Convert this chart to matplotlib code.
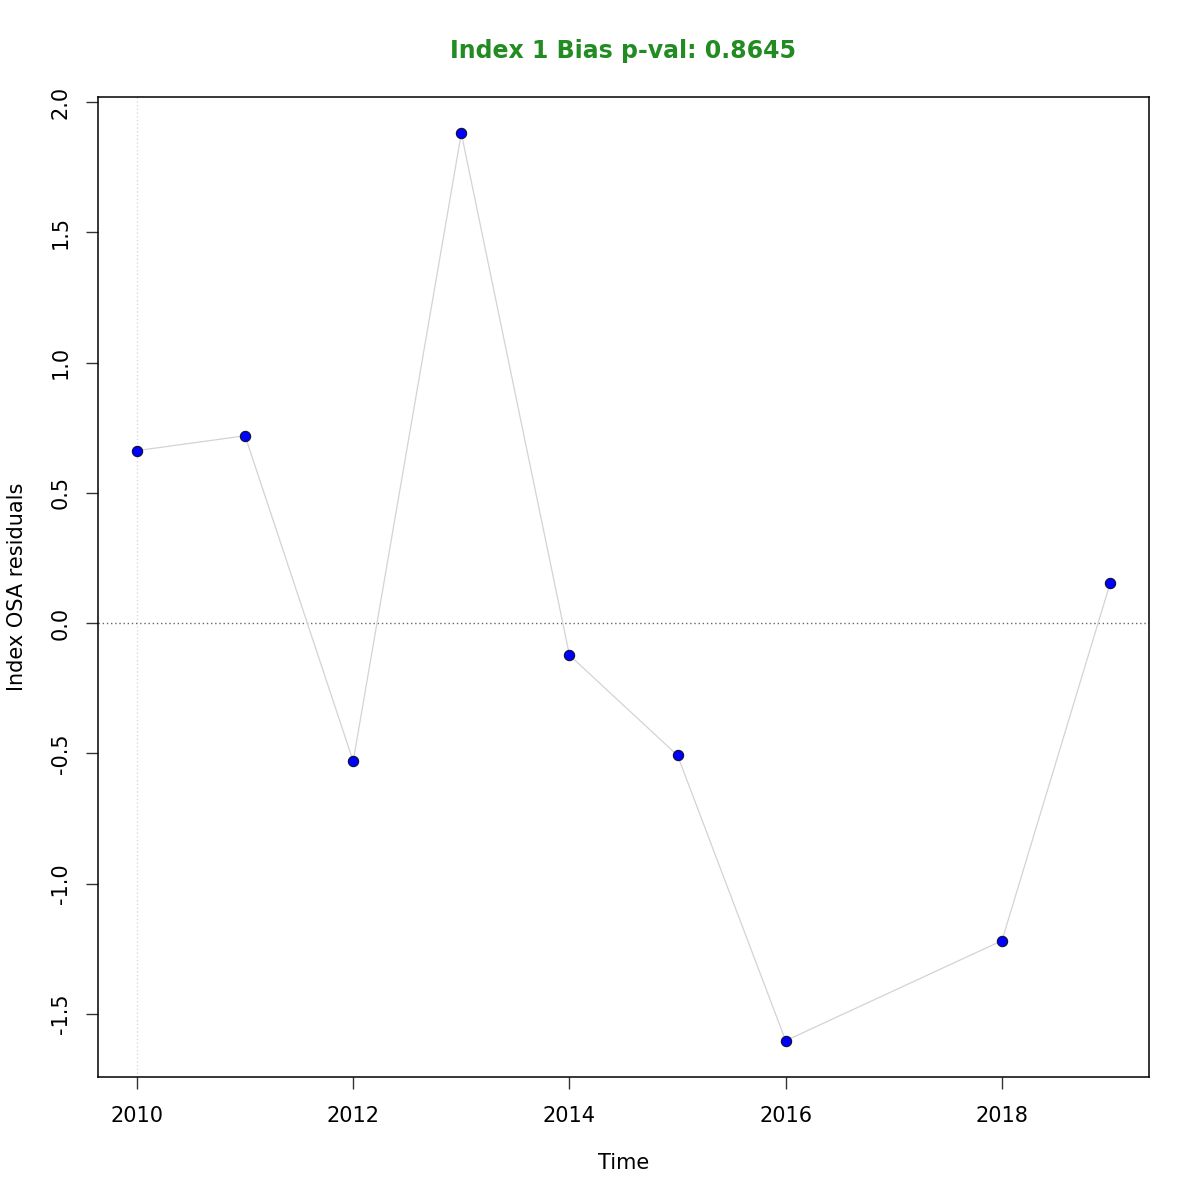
import matplotlib.pyplot as plt
import numpy as np

# OSA residuals by year (2017 missing)
years = [2010, 2011, 2012, 2013, 2014, 2015, 2016, 2018, 2019]
residuals = [0.662, 0.719, -0.530, 1.880, -0.123, -0.508, -1.603, -1.219, 0.152]
title = "Index 1 Bias p-val: 0.8645"

xticks = [2010, 2012, 2014, 2016, 2018]
yticks = [-1.5, -1.0, -0.5, 0.0, 0.5, 1.0, 1.5, 2.0]


def main() -> None:
    fig = plt.figure(figsize=(12, 12), dpi=100)
    ax = fig.add_axes([98 / 1200, 123 / 1200, 1051 / 1200, 980 / 1200])

    # R-style 4% padding
    x0, x1 = min(years), max(years)
    y0, y1 = min(residuals), max(residuals)
    dx = (x1 - x0) * 0.04
    dy = (y1 - y0) * 0.04
    ax.set_xlim(x0 - dx, x1 + dx)
    ax.set_ylim(y0 - dy, y1 + dy)

    ax.axvline(years[0], color="#d3d3d3", linestyle=(0, (1, 2)), linewidth=0.9, zorder=1)
    ax.axhline(0, color="#666666", linestyle=(0, (1, 2)), linewidth=1.0, zorder=1)

    ax.plot(years, residuals, color="#d3d3d3", linewidth=0.9, zorder=2)
    ax.scatter(years, residuals, s=55, color="blue", edgecolors="#101030",
               linewidths=0.8, zorder=3)

    ax.set_xticks(xticks)
    ax.set_xticklabels([str(t) for t in xticks])
    ax.set_yticks(yticks)
    ax.set_yticklabels([f"{t:.1f}" for t in yticks], rotation=90, va="center")

    ax.tick_params(axis="both", direction="out", length=8.6, width=1,
                   color="#333333", labelsize=15)
    ax.tick_params(axis="x", pad=12)
    ax.tick_params(axis="y", pad=11)
    for sp in ax.spines.values():
        sp.set_linewidth(1.1)

    ax.set_xlabel("Time", fontsize=15, labelpad=20)
    ax.set_ylabel("Index OSA residuals", fontsize=15, labelpad=17)
    ax.set_title(title, color="#228B22", fontweight="bold", fontsize=17, pad=28)

    fig.savefig("out.png", dpi=100)
    plt.close(fig)


if __name__ == "__main__":
    main()
